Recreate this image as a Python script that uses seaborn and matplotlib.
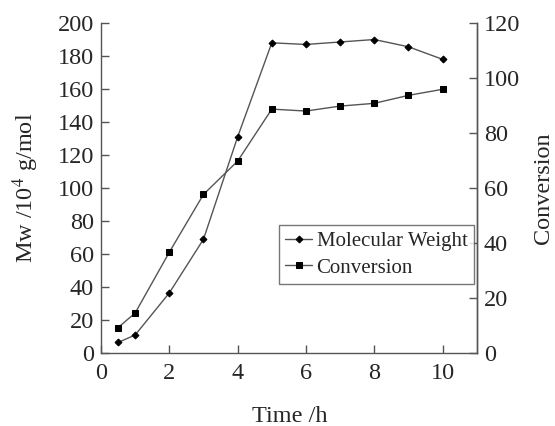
import numpy as np
import pandas as pd
import matplotlib
matplotlib.use('Agg')
import matplotlib.pyplot as plt
import seaborn as sns

# data
time_h = [0.5, 1, 2, 3, 4, 5, 6, 7, 8, 9, 10]
mw = [6.5, 11, 36.5, 69, 131, 188, 187, 188.5, 190, 185.6, 178]
conversion = [9.3, 14.6, 36.7, 57.7, 69.8, 88.7, 88, 89.8, 90.8, 93.7, 95.9]

df = pd.DataFrame({'time': time_h, 'mw': mw, 'conv': conversion})

sns.set_style('ticks')
plt.rcParams['font.family'] = ['Liberation Serif', 'DejaVu Serif']
plt.rcParams['mathtext.fontset'] = 'stix'

fig = plt.figure(figsize=(5.55, 4.26), dpi=100)
ax = fig.add_axes([0.182, 0.171, 0.677, 0.775])
ax2 = ax.twinx()

line_col = '#555555'
sns.lineplot(data=df, x='time', y='mw', ax=ax, color=line_col, lw=1.0,
             marker='D', markersize=3.5, markerfacecolor='black',
             markeredgecolor='black', label='Molecular Weight', legend=False)
sns.lineplot(data=df, x='time', y='conv', ax=ax2, color=line_col, lw=1.0,
             marker='s', markersize=4.8, markerfacecolor='black',
             markeredgecolor='black', label='Conversion', legend=False)

ax.set_xlim(0, 11)
ax.set_ylim(0, 200)
ax2.set_ylim(0, 120)
ax.set_xticks(range(0, 11, 2))
ax.set_yticks(range(0, 201, 20))
ax2.set_yticks(range(0, 121, 20))

for a in (ax, ax2):
    a.spines['top'].set_visible(False)
    for s in a.spines.values():
        s.set_color('#555555')
        s.set_linewidth(1.0)
    a.tick_params(direction='in', length=6, width=1.0, color='#555555',
                  labelsize=17.5, pad=5)
ax.tick_params(axis='x', pad=7)
ax2.spines['left'].set_visible(False)
ax2.spines['bottom'].set_visible(False)

ax.set_xlabel('Time /h', fontsize=17.5)
ax.xaxis.set_label_coords(0.503, -0.16)
ax.set_ylabel('Mw /10$^{4}$ g/mol', fontsize=17.5)
ax.yaxis.set_label_coords(-0.16, 0.5)
ax2.set_ylabel('Conversion', fontsize=17.5)
ax2.yaxis.set_label_coords(1.15, 0.5)

h1, l1 = ax.get_legend_handles_labels()
h2, l2 = ax2.get_legend_handles_labels()
leg = ax2.legend(h1 + h2, l1 + l2, loc='upper left',
                 bbox_to_anchor=(0.474, 0.388), fontsize=15, frameon=True,
                 fancybox=False, edgecolor='#555555', handlelength=1.3,
                 handletextpad=0.2, borderpad=0.3, labelspacing=0.35,
                 borderaxespad=0)
leg.get_frame().set_linewidth(1.0)

fig.savefig('out.png', dpi=100)
